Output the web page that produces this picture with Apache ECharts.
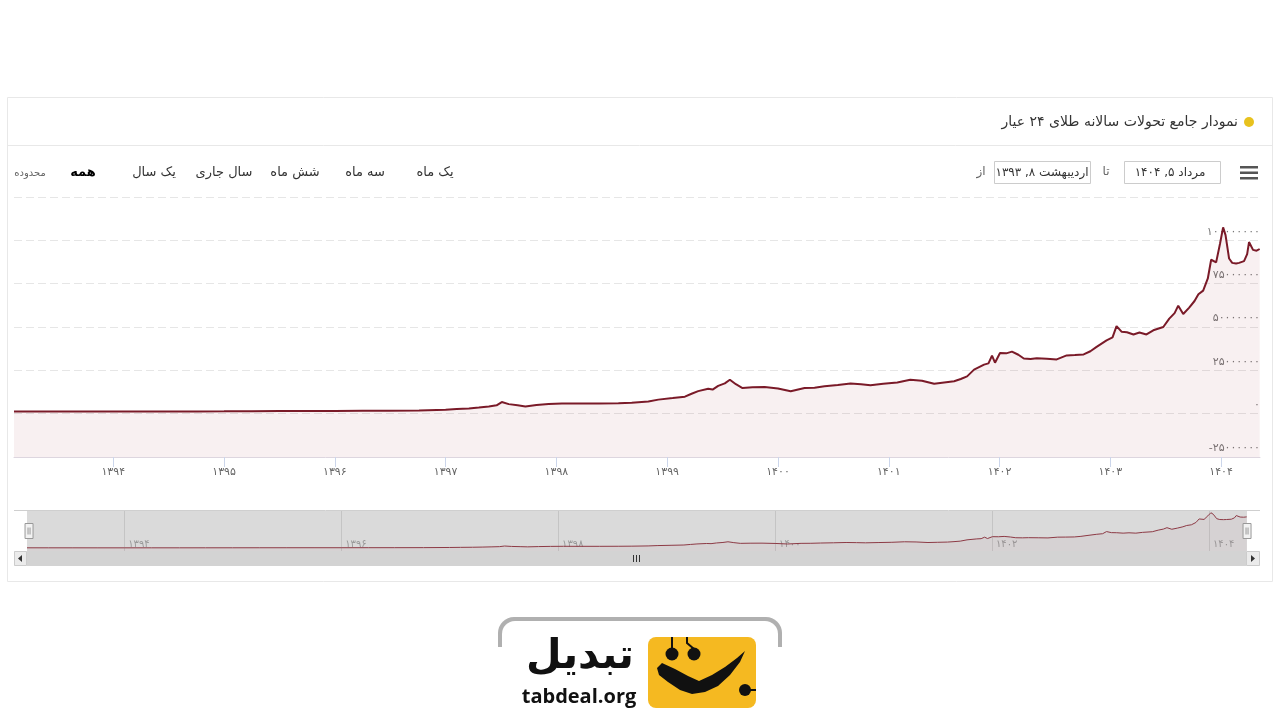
<!DOCTYPE html>
<html>
<head>
<meta charset="utf-8">
<script src="https://cdn.jsdelivr.net/npm/echarts@6/dist/echarts.min.js"></script>
<style>
html,body{margin:0;padding:0;background:#fff;}
#chart{width:1280px;height:720px;}
</style>
</head>
<body>
<div id="chart"></div>
<script>
// Persian (Solar Hijri) dates as decimal years
const dates = [1393.104, 1393.30, 1393.52, 1393.75, 1394.00, 1394.25, 1394.51, 1394.75, 1395.00, 1395.25, 1395.50, 1395.75, 1396.00, 1396.25, 1396.49, 1396.76, 1397.00, 1397.10, 1397.21, 1397.30, 1397.39, 1397.46, 1397.507, 1397.57, 1397.65, 1397.72, 1397.82, 1397.93, 1398.05, 1398.20, 1398.38, 1398.56, 1398.68, 1398.83, 1398.92, 1399.05, 1399.16, 1399.22, 1399.28, 1399.37, 1399.41, 1399.46, 1399.52, 1399.566, 1399.62, 1399.68, 1399.77, 1399.88, 1400.00, 1400.115, 1400.24, 1400.33, 1400.42, 1400.54, 1400.655, 1400.75, 1400.835, 1400.95, 1401.077, 1401.194, 1401.30, 1401.41, 1401.50, 1401.59, 1401.65, 1401.707, 1401.77, 1401.86, 1401.90, 1401.932, 1401.959, 1402.004, 1402.06, 1402.112, 1402.17, 1402.219, 1402.28, 1402.336, 1402.426, 1402.516, 1402.606, 1402.68, 1402.759, 1402.82, 1402.876, 1402.966, 1403.02, 1403.056, 1403.101, 1403.15, 1403.209, 1403.263, 1403.326, 1403.388, 1403.478, 1403.532, 1403.58, 1403.613, 1403.658, 1403.712, 1403.76, 1403.795, 1403.838, 1403.88, 1403.91, 1403.955, 1403.99, 1404.018, 1404.04, 1404.072, 1404.10, 1404.135, 1404.162, 1404.207, 1404.235, 1404.252, 1404.288, 1404.32, 1404.348];
// 24k gold price (rial)
const prices = [1300000, 1280000, 1250000, 1200000, 1200000, 1250000, 1250000, 1300000, 1350000, 1450000, 1500000, 1550000, 1550000, 1650000, 1700000, 1850000, 2300000, 2700000, 3000000, 3500000, 4200000, 4800000, 6700000, 5500000, 4800000, 4200000, 5000000, 5600000, 5900000, 5800000, 5800000, 6000000, 6300000, 7000000, 8100000, 9000000, 9800000, 11500000, 13000000, 14400000, 13900000, 16000000, 17500000, 19600000, 17000000, 14800000, 15300000, 15400000, 14500000, 12900000, 14800000, 15000000, 15800000, 16500000, 17400000, 17000000, 16400000, 17200000, 18000000, 19600000, 19000000, 17300000, 18000000, 18700000, 20000000, 21500000, 25400000, 28300000, 29000000, 33500000, 29400000, 35000000, 34800000, 35800000, 34000000, 31800000, 31500000, 32000000, 31700000, 31300000, 33600000, 33800000, 34200000, 36000000, 38500000, 42300000, 44000000, 50500000, 47300000, 47000000, 45700000, 46800000, 45700000, 48100000, 50000000, 54800000, 58000000, 62300000, 57500000, 61200000, 65000000, 68900000, 71000000, 78000000, 88800000, 87300000, 98000000, 107500000, 103000000, 89500000, 87000000, 86600000, 87000000, 88000000, 92000000, 99000000, 94500000, 94000000, 95000000];

const rangeStart = 1393.104; // 8 Ordibehesht 1393
const rangeEnd = 1404.351;   // 5 Mordad 1404
const yearTicks = [1394, 1395, 1396, 1397, 1398, 1399, 1400, 1401, 1402, 1403, 1404];
const navTicks = [1394, 1396, 1398, 1400, 1402, 1404];
const yMin = -25000000, yMax = 125000000, yStep = 25000000;

const titleText = 'نمودار جامع تحولات سالانه طلای ۲۴ عیار';
const rangeButtons = ['یک ماه', 'سه ماه', 'شش ماه', 'سال جاری', 'یک سال', 'همه'];
const fromDate = 'اردیبهشت ۸, ۱۳۹۳';
const toDate = 'مرداد ۵, ۱۴۰۴';

const fa = s => String(s).replace(/\d/g, d => '۰۱۲۳۴۵۶۷۸۹'[d]);
const seriesData = dates.map((d, i) => [d, prices[i]]);
const FONT = 'DejaVu Sans';

const chart = echarts.init(document.getElementById('chart'), null, {renderer: 'canvas'});

const btnX = [435, 365, 295, 224, 154, 83];
const graphics = [
  {type: 'rect', shape: {x: 7.5, y: 97.5, width: 1265, height: 484}, style: {fill: 'none', stroke: '#e8e8e8', lineWidth: 1}, silent: true},
  {type: 'line', shape: {x1: 7, y1: 145.5, x2: 1272, y2: 145.5}, style: {stroke: '#e8e8e8', lineWidth: 1}, silent: true},
  {type: 'circle', shape: {cx: 1249, cy: 122, r: 5}, style: {fill: '#e8c21e'}},
  {type: 'text', style: {text: titleText, x: 1238, y: 122, font: '14px "' + FONT + '"', fill: '#333', textAlign: 'right', textVerticalAlign: 'middle'}},
  // hamburger
  {type: 'rect', shape: {x: 1240, y: 166, width: 18, height: 2.5}, style: {fill: '#555'}},
  {type: 'rect', shape: {x: 1240, y: 171.5, width: 18, height: 2.5}, style: {fill: '#555'}},
  {type: 'rect', shape: {x: 1240, y: 177, width: 18, height: 2.5}, style: {fill: '#555'}},
  // date inputs
  {type: 'rect', shape: {x: 1124.5, y: 161.5, width: 96, height: 22}, style: {fill: '#fff', stroke: '#ccc', lineWidth: 1}},
  {type: 'text', style: {text: toDate, x: 1170, y: 173, font: '12px "' + FONT + '"', fill: '#333', textAlign: 'center', textVerticalAlign: 'middle'}},
  {type: 'text', style: {text: 'تا', x: 1106, y: 172, font: '12px "' + FONT + '"', fill: '#666', textAlign: 'center', textVerticalAlign: 'middle'}},
  {type: 'rect', shape: {x: 994.5, y: 161.5, width: 96, height: 22}, style: {fill: '#fff', stroke: '#ccc', lineWidth: 1}},
  {type: 'text', style: {text: fromDate, x: 1042, y: 173, font: '12px "' + FONT + '"', fill: '#333', textAlign: 'center', textVerticalAlign: 'middle'}},
  {type: 'text', style: {text: 'از', x: 981, y: 172, font: '12px "' + FONT + '"', fill: '#666', textAlign: 'center', textVerticalAlign: 'middle'}},
  {type: 'text', style: {text: 'محدوده', x: 30, y: 173, font: '10px "' + FONT + '"', fill: '#666', textAlign: 'center', textVerticalAlign: 'middle'}},
  // scrollbar
  {type: 'rect', shape: {x: 14, y: 551, width: 1246, height: 15}, style: {fill: '#f2f2f2'}},
  {type: 'rect', shape: {x: 27, y: 551, width: 1219, height: 15}, style: {fill: '#d3d3d3'}},
  {type: 'rect', shape: {x: 14.5, y: 551.5, width: 12, height: 14}, style: {fill: '#ebebeb', stroke: '#ccc'}},
  {type: 'polygon', shape: {points: [[22, 555], [22, 562], [18, 558.5]]}, style: {fill: '#333'}},
  {type: 'rect', shape: {x: 1246.5, y: 551.5, width: 13, height: 14}, style: {fill: '#ebebeb', stroke: '#ccc'}},
  {type: 'polygon', shape: {points: [[1251, 555], [1251, 562], [1255, 558.5]]}, style: {fill: '#333'}},
  {type: 'line', shape: {x1: 633.5, y1: 555, x2: 633.5, y2: 562}, style: {stroke: '#333', lineWidth: 1}},
  {type: 'line', shape: {x1: 636.5, y1: 555, x2: 636.5, y2: 562}, style: {stroke: '#333', lineWidth: 1}},
  {type: 'line', shape: {x1: 639.5, y1: 555, x2: 639.5, y2: 562}, style: {stroke: '#333', lineWidth: 1}},
  {type: 'line', shape: {x1: 14, y1: 510.5, x2: 1260, y2: 510.5}, style: {stroke: '#cfcfcf', lineWidth: 1}},
  // logo
  {type: 'rect', shape: {x: 498, y: 617, width: 284, height: 30, r: [16, 16, 0, 0]}, style: {fill: '#b0b0b0'}},
  {type: 'rect', shape: {x: 502, y: 621, width: 276, height: 99, r: [13, 13, 0, 0]}, style: {fill: '#fff'}},
  {type: 'rect', shape: {x: 648, y: 637, width: 108, height: 71, r: 8}, style: {fill: '#f5b921'}},
  {type: 'line', shape: {x1: 672, y1: 637, x2: 672, y2: 648}, style: {stroke: '#111', lineWidth: 2}},
  {type: 'polyline', shape: {points: [[687, 637], [687, 643], [694, 649]]}, style: {stroke: '#111', lineWidth: 2, fill: 'none'}},
  {type: 'circle', shape: {cx: 672, cy: 654, r: 6.5}, style: {fill: '#111'}},
  {type: 'circle', shape: {cx: 694, cy: 654, r: 6.5}, style: {fill: '#111'}},
  {type: 'polygon', shape: {points: [[662,663],[675,669],[688,676],[699,681],[712,675],[725,667],[737,658],[745,651],[740,662],[730,675],[718,686],[705,692],[692,694],[680,690],[668,682],[659,675],[657,668]]}, style: {fill: '#111'}},
  {type: 'circle', shape: {cx: 745, cy: 690, r: 6}, style: {fill: '#111'}},
  {type: 'line', shape: {x1: 745, y1: 690, x2: 756, y2: 690}, style: {stroke: '#111', lineWidth: 2}},
  {type: 'text', style: {text: 'تبدیل', x: 580, y: 657, font: 'bold 41px "' + FONT + '"', fill: '#111', textAlign: 'center', textVerticalAlign: 'middle'}},
  {type: 'text', style: {text: 'tabdeal.org', x: 579, y: 697, font: 'bold 20px "Open Sans"', fill: '#111', textAlign: 'center', textVerticalAlign: 'middle'}}
];
rangeButtons.forEach((t, i) => {
  graphics.push({type: 'text', style: {text: t, x: btnX[i], y: 173, font: (i === 5 ? 'bold ' : '') + '13px "' + FONT + '"', fill: i === 5 ? '#000' : '#333', textAlign: 'center', textVerticalAlign: 'middle'}});
});

const option = {
  backgroundColor: '#fff',
  animation: false,
  textStyle: {fontFamily: FONT},
  graphic: {elements: graphics},
  grid: [
    {left: 14, right: 20, top: 197, bottom: 263, containLabel: false},
    {left: 27, right: 33, top: 511, height: 40, show: true, backgroundColor: '#dadada', borderWidth: 0}
  ],
  xAxis: [
    {
      type: 'value', gridIndex: 0, min: rangeStart, max: rangeEnd,
      axisLine: {show: true, onZero: false, lineStyle: {color: '#ddd6df', width: 1}},
      axisTick: {show: true, customValues: yearTicks, length: 10, lineStyle: {color: '#ccd6eb'}},
      axisLabel: {customValues: yearTicks, formatter: v => fa(Math.round(v)), color: '#666', fontSize: 11, margin: 10, fontFamily: FONT},
      splitLine: {show: false}
    },
    {
      type: 'value', gridIndex: 1, min: rangeStart, max: rangeEnd,
      axisLine: {show: false, onZero: false},
      axisTick: {show: true, inside: true, customValues: navTicks, length: 40, lineStyle: {color: '#c4c4c4'}},
      axisLabel: {show: true, inside: true, customValues: navTicks, formatter: v => fa(Math.round(v)), color: '#999', fontSize: 10, margin: 2, align: 'left', padding: [0, 0, 0, 4], fontFamily: FONT},
      splitLine: {show: false}
    }
  ],
  yAxis: [
    {
      type: 'value', gridIndex: 0, position: 'right', min: yMin, max: yMax, interval: yStep,
      axisLine: {show: false}, axisTick: {show: false},
      axisLabel: {inside: true, margin: 0, color: '#777', fontSize: 11, verticalAlign: 'bottom', padding: [0, 0, 3, 0], fontFamily: FONT,
        formatter: v => v >= yMax ? '' : fa(v)},
      splitLine: {show: true, lineStyle: {color: '#e6e6e6', type: [8, 4], width: 1}}
    },
    {
      type: 'value', gridIndex: 1,
      min: v => v.min - (v.max - v.min) * 0.09,
      max: v => v.max + (v.max - v.min) * 0.05,
      show: false, splitLine: {show: false}
    }
  ],
  dataZoom: [{
    type: 'slider', xAxisIndex: 0, filterMode: 'none', start: 0, end: 100,
    left: 27, right: 33, top: 511, height: 40,
    backgroundColor: 'rgba(0,0,0,0)', borderColor: 'rgba(0,0,0,0)', fillerColor: 'rgba(0,0,0,0)',
    dataBackground: {lineStyle: {opacity: 0}, areaStyle: {opacity: 0}},
    selectedDataBackground: {lineStyle: {opacity: 0}, areaStyle: {opacity: 0}},
    showDetail: false, showDataShadow: false, brushSelect: false, moveHandleSize: 0,
    handleIcon: 'path://M0,0 L8,0 L8,15 L0,15 Z M3,4 L3,11 M5,4 L5,11',
    handleSize: 15,
    handleStyle: {color: '#f2f2f2', borderColor: '#999', borderWidth: 1},
    emphasis: {handleStyle: {color: '#f2f2f2', borderColor: '#666'}}
  }],
  series: [
    {
      type: 'line', xAxisIndex: 0, yAxisIndex: 0, data: seriesData, symbol: 'none', smooth: false,
      lineStyle: {color: '#7a1a28', width: 2},
      areaStyle: {color: 'rgba(150,40,60,0.1)', origin: 'start'},
      silent: true
    },
    {
      type: 'line', xAxisIndex: 1, yAxisIndex: 1, data: seriesData, symbol: 'none',
      lineStyle: {color: '#8d3a45', width: 1},
      areaStyle: {color: 'rgba(150,40,60,0.06)', origin: 'start'},
      silent: true
    }
  ]
};
chart.setOption(option);
</script>
</body>
</html>
